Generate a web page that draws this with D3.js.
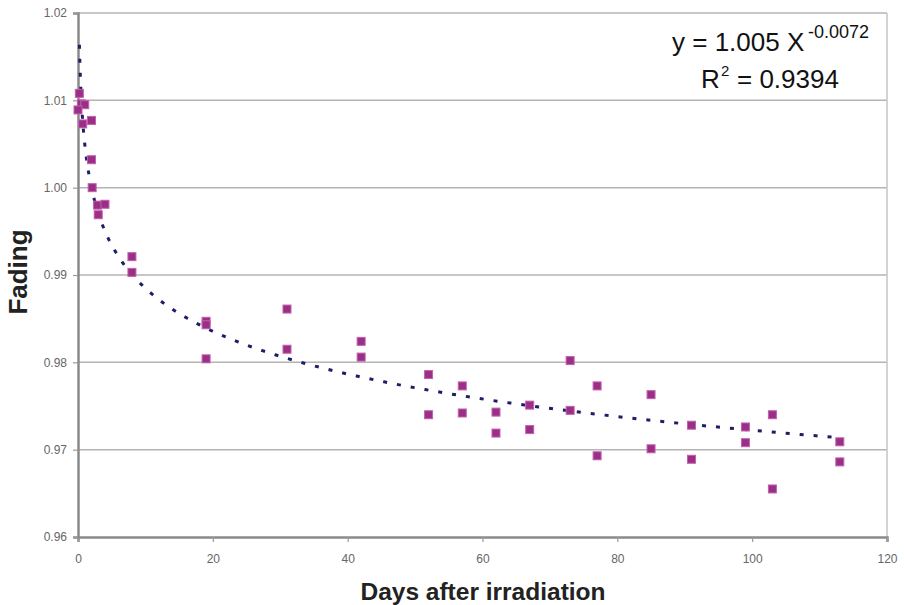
<!DOCTYPE html>
<html><head><meta charset="utf-8">
<script src="https://cdn.jsdelivr.net/npm/d3@7"></script>
<style>body{margin:0;background:#fff;}svg{display:block;font-family:Arial,"Liberation Sans",sans-serif;}</style>
</head><body>
<svg id="c" width="904" height="605"></svg>
<script>
const days = [0.2,0.5,1,0,0.7,2,2,2.1,2.9,4,3,8,8,19,19,19,31,31,42,42,52,52,57,57,62,62,67,67,73,73,77,77,85,85,91,91,99,99,103,103,113,113];
const fading = [1.0108,1.0096,1.0095,1.0089,1.0073,1.0077,1.0032,1.0000,0.9980,0.9981,0.9969,0.9921,0.9903,0.9847,0.9843,0.9804,0.9861,0.9815,0.9824,0.9806,0.9786,0.9740,0.9773,0.9742,0.9743,0.9719,0.9751,0.9723,0.9802,0.9745,0.9773,0.9693,0.9763,0.9701,0.9728,0.9689,0.9726,0.9708,0.9740,0.9655,0.9709,0.9686];
const xTicks = [0,20,40,60,80,100,120];
const yTicks = [0.96,0.97,0.98,0.99,1.00,1.01,1.02];
const fitA = 1.005, fitB = -0.0072;
const fitRange = [0.21, 113];
const eqMain = "y = 1.005 X", eqExp = "-0.0072", r2Main = "R", r2Sup = "2", r2Val = "= 0.9394";

const svg = d3.select("#c");
const x = d3.scaleLinear().domain([0,120]).range([78,887]);
const y = d3.scaleLinear().domain([0.96,1.02]).range([537,13]);

// gridlines
svg.append("g").selectAll("line").data(yTicks.filter(v=>v>0.96)).join("line")
  .attr("x1",x(0)).attr("x2",x(120)).attr("y1",d=>y(d)).attr("y2",d=>y(d))
  .attr("stroke","#b4b4b4").attr("stroke-width",1.5);
// right border
svg.append("line").attr("x1",x(120)).attr("x2",x(120)).attr("y1",y(1.02)).attr("y2",y(0.96))
  .attr("stroke","#c4c4c4").attr("stroke-width",1.5);

// axes
const xAxis = d3.axisBottom(x).tickValues(xTicks).tickSize(5).tickPadding(12).tickFormat(d3.format("d"));
const gx = svg.append("g").attr("transform",`translate(0,${y(0.96)})`).call(xAxis);
const yAxis = d3.axisLeft(y).tickValues(yTicks).tickSize(5).tickPadding(6).tickFormat(d3.format(".2f"));
const gy = svg.append("g").attr("transform",`translate(${x(0)},0)`).call(yAxis);
[gx,gy].forEach(g=>{
  g.select(".domain").attr("stroke","#8a8a8a").attr("stroke-width",2.5);
  g.selectAll(".tick line").attr("stroke","#9a9a9a").attr("stroke-width",1.2);
  g.selectAll(".tick text").attr("fill","#666").attr("font-size",12).attr("font-family","Arial,'Liberation Sans',sans-serif");
});

// fit line
const fitPts = d3.range(0,201).map(i=>{
  const t = fitRange[0]*Math.pow(fitRange[1]/fitRange[0], i/200);
  return [t, fitA*Math.pow(t,fitB)];
});
svg.append("path").datum(fitPts)
  .attr("d", d3.line().x(d=>x(d[0])).y(d=>y(d[1])))
  .attr("fill","none").attr("stroke","#1e1e66").attr("stroke-width",3)
  .attr("stroke-dasharray","4,10");

// points
const pts = days.map((d,i)=>({d, f:fading[i]}));
svg.append("g").selectAll("rect").data(pts).join("rect")
  .attr("x",p=>x(p.d)-4).attr("y",p=>y(p.f)-4).attr("width",8).attr("height",8)
  .attr("fill","#9a2f86").attr("stroke","#c45fb0").attr("stroke-width",1);

// equation
const eqG = svg.append("g").attr("fill","#111");
eqG.append("text").attr("x",672).attr("y",51).attr("font-size",26).text(eqMain);
eqG.append("text").attr("x",808).attr("y",38).attr("font-size",18).text(eqExp);
eqG.append("text").attr("x",701).attr("y",88).attr("font-size",26).text(r2Main);
eqG.append("text").attr("x",721).attr("y",76).attr("font-size",15).text(r2Sup);
eqG.append("text").attr("x",737).attr("y",88).attr("font-size",26).text(r2Val);

// axis titles
svg.append("text").attr("x",483).attr("y",600).attr("text-anchor","middle")
  .attr("font-size",24.5).attr("font-weight","bold").attr("fill","#222").text("Days after irradiation");
svg.append("text").attr("transform","translate(27,272) rotate(-90)").attr("text-anchor","middle")
  .attr("font-size",26).attr("font-weight","bold").attr("fill","#222").text("Fading");
</script>
</body></html>
